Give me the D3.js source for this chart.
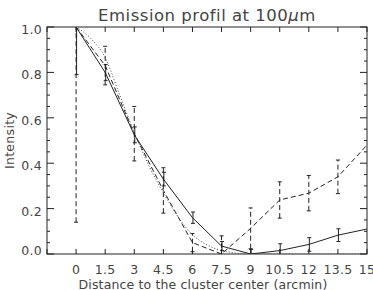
<!DOCTYPE html>
<html>
<head>
<meta charset="utf-8">
<script src="https://cdn.jsdelivr.net/npm/d3@7"></script>
<style>
  body { margin: 0; background: #fff; }
  svg { display: block; font-family: "DejaVu Sans", sans-serif; }
  text { fill: #444; }
</style>
</head>
<body>
<svg id="app" width="373" height="290"></svg>
<script>
// distances (arcmin)
const dist = [0, 1.5, 3, 4.5, 6, 7.5, 9, 10.5, 12, 13.5, 15];
// solid profile + errors
const solidVal = [1.0, 0.80, 0.525, 0.33, 0.16, 0.035, 0.0, 0.015, 0.042, 0.083, 0.11];
const solidErr = [0.21, 0.035, 0.035, 0.03, 0.025, 0.02, 0.02, 0.03, 0.03, 0.028, 0];
// dashed profile + errors
const dashVal = [1.0, 0.83, 0.53, 0.28, 0.05, 0.0, 0.113, 0.238, 0.268, 0.34, 0.48];
const dashErr = [0.86, 0.085, 0.12, 0.1, 0.04, 0.08, 0.09, 0.08, 0.078, 0.074, 0];
// dotted model
const dotX = [0, 0.75, 1.5, 2.25, 3, 3.75, 4.5, 5.25, 6, 6.75, 7.5, 8.25, 9, 10.5, 12, 13.5, 15];
const dotVal = [1.0, 0.95, 0.865, 0.70, 0.535, 0.39, 0.27, 0.165, 0.085, 0.04, 0.015, 0.004, 0.0, 0.0, 0.0, 0.0, 0.0];

const xTicks = [0, 1.5, 3, 4.5, 6, 7.5, 9, 10.5, 12, 13.5, 15];
const yTicks = [0.0, 0.2, 0.4, 0.6, 0.8, 1.0];

const svg = d3.select("#app");
const m = { left: 47, right: 367, top: 27, bottom: 254 };
const x = d3.scaleLinear().domain([-1.5, 15]).range([m.left, m.right]);
const y = d3.scaleLinear().domain([0, 1]).range([m.bottom, m.top]);

const ink = "#222";
const plot = svg.append("g");

// frame
plot.append("rect")
  .attr("x", m.left).attr("y", m.top)
  .attr("width", m.right - m.left).attr("height", m.bottom - m.top)
  .attr("fill", "none").attr("stroke", ink).attr("stroke-width", 1);

// x ticks top and bottom
const xAll = d3.range(-1.5, 15.01, 1.5);
xAll.forEach(function (t) {
  plot.append("line").attr("x1", x(t)).attr("x2", x(t)).attr("y1", m.bottom).attr("y2", m.bottom - 5).attr("stroke", ink);
  plot.append("line").attr("x1", x(t)).attr("x2", x(t)).attr("y1", m.top).attr("y2", m.top + 5).attr("stroke", ink);
});
// y ticks left and right, minor every 0.05
d3.range(0, 1.001, 0.05).forEach(function (t, i) {
  const len = (i % 4 === 0) ? 7 : 3;
  plot.append("line").attr("x1", m.left).attr("x2", m.left + len).attr("y1", y(t)).attr("y2", y(t)).attr("stroke", ink);
  plot.append("line").attr("x1", m.right).attr("x2", m.right - len).attr("y1", y(t)).attr("y2", y(t)).attr("stroke", ink);
});

svg.append("g").selectAll("text").data(xTicks).join("text")
  .attr("x", function (d) { return x(d); })
  .attr("y", 273.5)
  .attr("text-anchor", "middle")
  .attr("font-size", 12.5)
  .attr("letter-spacing", 0.3)
  .text(function (d) { return d; });

svg.append("g").selectAll("text").data(yTicks).join("text")
  .attr("x", 42)
  .attr("y", function (d) { return d === 0 ? y(d) + 0.5 : y(d) + 7; })
  .attr("text-anchor", "end")
  .attr("font-size", 12.5)
  .attr("letter-spacing", 0.3)
  .text(function (d) { return d.toFixed(1); });

// titles
svg.append("text").attr("x", 207).attr("y", 21).attr("text-anchor", "middle")
  .attr("font-size", 16.5).attr("letter-spacing", 0.5)
  .html('Emission profil at 100<tspan font-style="italic">μ</tspan>m');
svg.append("text").attr("x", 203).attr("y", 288.5).attr("text-anchor", "middle")
  .attr("font-size", 12.5).attr("letter-spacing", 0.15)
  .text("Distance to the cluster center (arcmin)");
svg.append("text").attr("transform", "translate(14," + ((m.top + m.bottom) / 2) + ") rotate(-90)")
  .attr("text-anchor", "middle").attr("font-size", 12.5).attr("letter-spacing", 0.3).text("Intensity");

// clip to the frame
svg.append("clipPath").attr("id", "clip").append("rect")
  .attr("x", m.left).attr("y", m.top).attr("width", m.right - m.left).attr("height", m.bottom - m.top);
const g = svg.append("g").attr("clip-path", "url(#clip)");

const line = d3.line().x(function (d) { return x(d[0]); }).y(function (d) { return y(d[1]); });

function drawSeries(vals, errs, dash, dx) {
  const pts = dist.map(function (d, i) { return [d, vals[i]]; });
  g.append("path").datum(pts).attr("d", line)
    .attr("fill", "none").attr("stroke", ink).attr("stroke-width", 1)
    .attr("stroke-dasharray", dash);
  const bars = dist.map(function (d, i) { return { x: d, v: vals[i], e: errs[i] }; })
    .filter(function (b) { return b.e > 0; });
  g.append("g").selectAll("line").data(bars).join("line")
    .attr("x1", function (b) { return x(b.x) + dx; })
    .attr("x2", function (b) { return x(b.x) + dx; })
    .attr("y1", function (b) { return y(b.v - b.e); })
    .attr("y2", function (b) { return y(b.v + b.e); })
    .attr("stroke", ink).attr("stroke-width", 1).attr("stroke-dasharray", dash);
  [-1, 1].forEach(function (s) {
    g.append("g").selectAll("line").data(bars).join("line")
      .attr("x1", function (b) { return x(b.x) + dx - 2; })
      .attr("x2", function (b) { return x(b.x) + dx + 2; })
      .attr("y1", function (b) { return y(b.v + s * b.e); })
      .attr("y2", function (b) { return y(b.v + s * b.e); })
      .attr("stroke", ink).attr("stroke-width", 1);
  });
}

drawSeries(dashVal, dashErr, "5,3", 0);
drawSeries(solidVal, solidErr, null, 0.5);

g.append("path").datum(dotX.map(function (d, i) { return [d, dotVal[i]]; }))
  .attr("d", d3.line().curve(d3.curveMonotoneX).x(function (d) { return x(d[0]); }).y(function (d) { return y(d[1]); }))
  .attr("fill", "none").attr("stroke", "#444").attr("stroke-width", 1).attr("stroke-dasharray", "1,2");
</script>
</body>
</html>
